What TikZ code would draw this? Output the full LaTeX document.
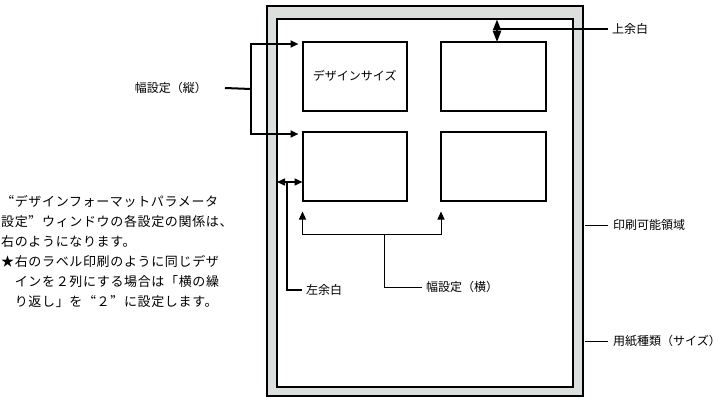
\documentclass[tikz,border=0pt]{standalone}
\usepackage{fontspec}
\newfontfamily\jp{Noto Sans CJK JP}
\newfontfamily\jpfw[RawFeature=+fwid,LetterSpace=5]{Noto Sans CJK JP}
\usetikzlibrary{arrows.meta,positioning}
\definecolor{papergray}{RGB}{220,224,220}

\begin{document}
\begin{tikzpicture}[x=1pt,y=-1pt,font=\jp\fontsize{12}{14}\selectfont,
    >={Triangle[length=8pt,width=7pt]},
    frame/.style={draw,line width=2pt,inner sep=0pt,outer sep=0pt,anchor=north west},
    tag/.style={anchor=west,inner sep=0pt},
    leadthin/.style={line width=1pt},
    leadmid/.style={line width=1.5pt},
    leadthick/.style={line width=2pt}]
    \useasboundingbox (0,0) rectangle (723,412);
    % paper and printable area
    \node[frame, fill=papergray, minimum width=316.5pt, minimum height=389.5pt] (paper) at (266.5,6.5) {};
    \node[frame, fill=white, minimum width=296pt, minimum height=367pt] (area) at (277,19.5) {};
    % labels on the sheet
    \node[frame, minimum width=104.5pt, minimum height=68.5pt] (d1) at (302.5,42) {デザインサイズ};
    \node[frame, minimum width=105pt, minimum height=68.5pt] (d2) at (441,42) {};
    \node[frame, minimum width=104.5pt, minimum height=68.5pt] (d3) at (302.5,132) {};
    \node[frame, minimum width=105pt, minimum height=68.5pt] (d4) at (441,132) {};
    % captions
    \node[tag] (top) at (612,29) {上余白};
    \node[tag] (printable) at (613,225) {印刷可能領域};
    \node[tag] (papersize) at (613,341) {用紙種類（サイズ）};
    \node[tag] (left) at (306,290) {左余白};
    \node[tag] (hpitch) at (426,287) {幅設定（横）};
    \node[anchor=east, inner sep=0pt] (vpitch) at (207,88) {幅設定（縦）};
    \node[anchor=north west, align=left, inner sep=0pt, font=\jpfw\fontsize{13}{20}\selectfont] (note) at (1,195)
        {“デザインフォーマットパラメータ\\設定”ウィンドウの各設定の関係は、\\右のようになります。\\★右のラベル印刷のように同じデザ\\　インを２列にする場合は「横の繰\\　り返し」を“２”に設定します。};
    \coordinate (tm) at (497,29);
    \coordinate (vj) at (251,89);
    \coordinate (lm) at (287,182);
    \coordinate (hj) at (384,234);
    % top margin
    \draw[leadthick, <->, >={Triangle[length=11pt,width=8pt]}] (area.north -| tm) -- (d2.north -| tm);
    \draw[leadthick] (tm) -- ([xshift=-4pt]top.west);
    % vertical pitch
    \draw[leadthick] ([xshift=18pt]vpitch.east) -- (vj);
    \draw[leadthick, ->] (vj) |- ([shift={(-4pt,-2pt)}]d1.north west);
    \draw[leadthick, ->] (vj) |- ([shift={(-4pt,-2pt)}]d3.north west);
    % left margin
    \draw[leadmid, <->] (area.west |- lm) -- (d3.west |- lm);
    \draw[leadmid] (lm) |- ([xshift=-4pt]left.west);
    % horizontal pitch
    \draw[leadthin, ->] (hj) -| ([yshift=-11pt]d3.south west);
    \draw[leadthin, ->] (hj) -| ([yshift=-11pt]d4.south west);
    \draw[leadthin] (hj) |- ([xshift=-4pt]hpitch.west);
    % paper edges
    \draw[leadthin] ([xshift=2pt]paper.east |- printable) -- ([xshift=-5pt]printable.west);
    \draw[leadthin] ([xshift=2pt]paper.east |- papersize) -- ([xshift=-5pt]papersize.west);
\end{tikzpicture}
\end{document}
